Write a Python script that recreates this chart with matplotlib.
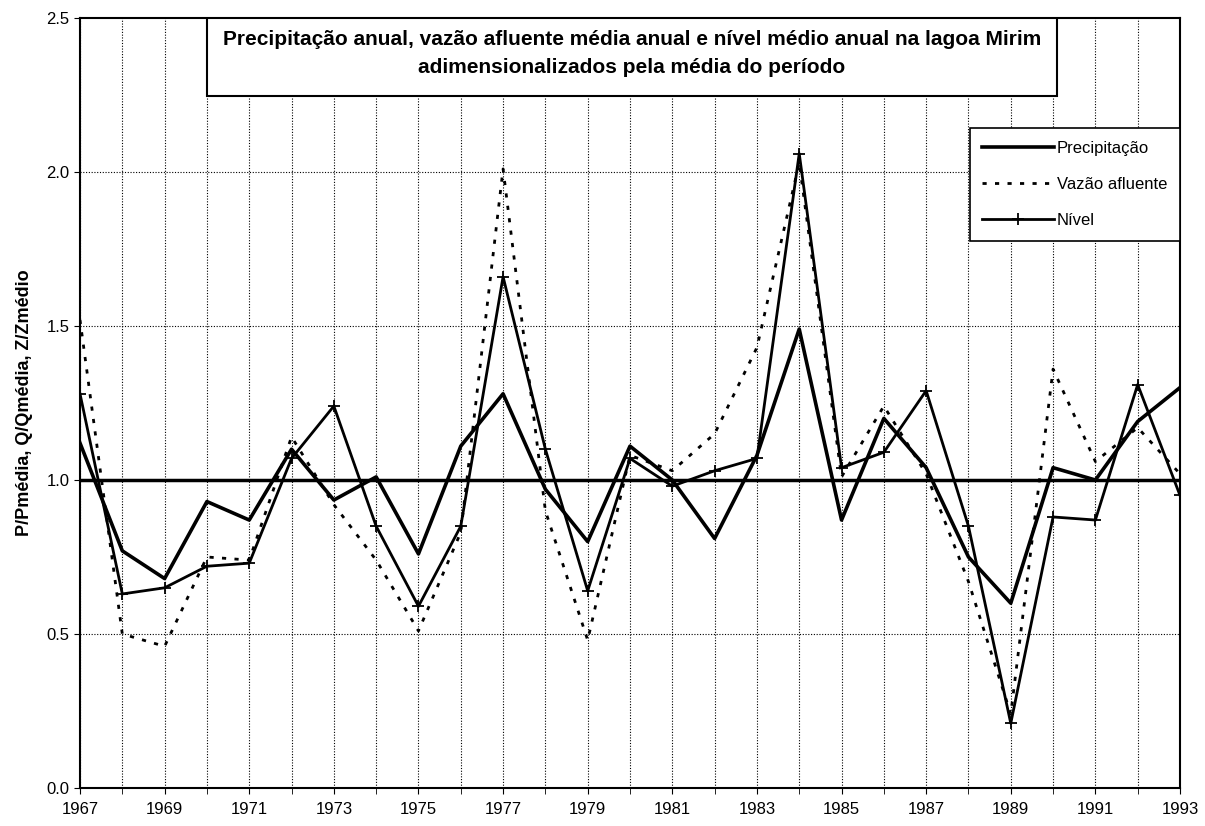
import matplotlib
matplotlib.use("Agg")
import matplotlib.pyplot as plt
from matplotlib.patches import Rectangle
import numpy as np

# anos da serie
anos = list(range(1967, 1994))

# valores adimensionalizados pela media do periodo
precipitacao = [1.12, 0.77, 0.68, 0.93, 0.87, 1.10, 0.935, 1.01, 0.76, 1.11,
                1.28, 0.97, 0.80, 1.11, 1.00, 0.81, 1.08, 1.49, 0.87, 1.20,
                1.04, 0.75, 0.60, 1.04, 1.00, 1.19, 1.30]
vazao = [1.52, 0.50, 0.46, 0.75, 0.74, 1.14, 0.92, 0.74, 0.51, 0.83,
         2.01, 0.90, 0.48, 1.08, 1.03, 1.15, 1.43, 2.03, 1.01, 1.24,
         1.02, 0.67, 0.24, 1.36, 1.06, 1.17, 1.02]
nivel = [1.28, 0.63, 0.65, 0.72, 0.73, 1.07, 1.24, 0.85, 0.59, 0.85,
         1.66, 1.10, 0.64, 1.07, 0.98, 1.03, 1.07, 2.06, 1.04, 1.09,
         1.29, 0.85, 0.21, 0.88, 0.87, 1.31, 0.95]

rotulos = ["Precipitação", "Vazão afluente", "Nível"]
titulo = ("Precipitação anual, vazão afluente média anual e nível médio anual na lagoa Mirim\n"
          "adimensionalizados pela média do período")
ylabel = "P/Pmédia, Q/Qmédia, Z/Zmédio"

plt.rcParams["font.family"] = ["Liberation Sans", "DejaVu Sans"]

fig = plt.figure(figsize=(12.05, 8.26), dpi=100)
ax = fig.add_axes([80 / 1205, 1 - 788 / 826, 1100 / 1205, 770 / 826])

# grade pontilhada
for a in anos:
    ax.axvline(a, color="black", lw=0.8, ls=(0, (1, 1.5)), zorder=1)
for v in np.arange(0.5, 2.5, 0.5):
    ax.axhline(v, color="black", lw=0.8, ls=(0, (1, 1.5)), zorder=1)
ax.axhline(1.0, color="black", lw=2.5, zorder=2)

ax.plot(anos, precipitacao, color="black", lw=2.6, label=rotulos[0], zorder=4)
ax.plot(anos, vazao, color="black", lw=2.0, ls=(0, (1.5, 3)), label=rotulos[1], zorder=4)
ax.plot(anos, nivel, color="black", lw=2.0, marker="+", ms=9, mew=1.3,
        label=rotulos[2], zorder=4)

ax.set_xlim(1967, 1993)
ax.set_ylim(0, 2.5)
ax.set_xticks(anos[::2])
ax.set_xticks(anos, minor=True)
ax.set_yticks(np.arange(0, 2.51, 0.5))
ax.set_yticklabels(["%.1f" % v for v in np.arange(0, 2.51, 0.5)], fontsize=12)
for lb in ax.get_xticklabels():
    lb.set_fontsize(12)
ax.tick_params(axis="x", which="both", direction="out", length=4, pad=6)
ax.tick_params(axis="y", direction="out", length=4)
for s in ax.spines.values():
    s.set_linewidth(1.5)

ax.set_ylabel(ylabel, fontsize=13, fontweight="bold", labelpad=10)

# caixa do titulo
ax.add_patch(Rectangle((1970.0, 2.247), 20.1, 0.253, facecolor="white",
                       edgecolor="black", lw=1.5, zorder=5))
ax.text(1980.05, 2.385, titulo, ha="center", va="center", fontsize=15,
        fontweight="bold", linespacing=1.55, zorder=6)

leg = ax.legend(loc="upper right", bbox_to_anchor=(1.0, 0.857), fontsize=12,
                frameon=True, fancybox=False, edgecolor="black", framealpha=1,
                handlelength=4.3, handletextpad=0.2, labelspacing=1.28,
                borderpad=0.75, borderaxespad=0)
leg.get_frame().set_linewidth(1.2)
leg.set_zorder(6)

fig.savefig("out.png", dpi=100)
